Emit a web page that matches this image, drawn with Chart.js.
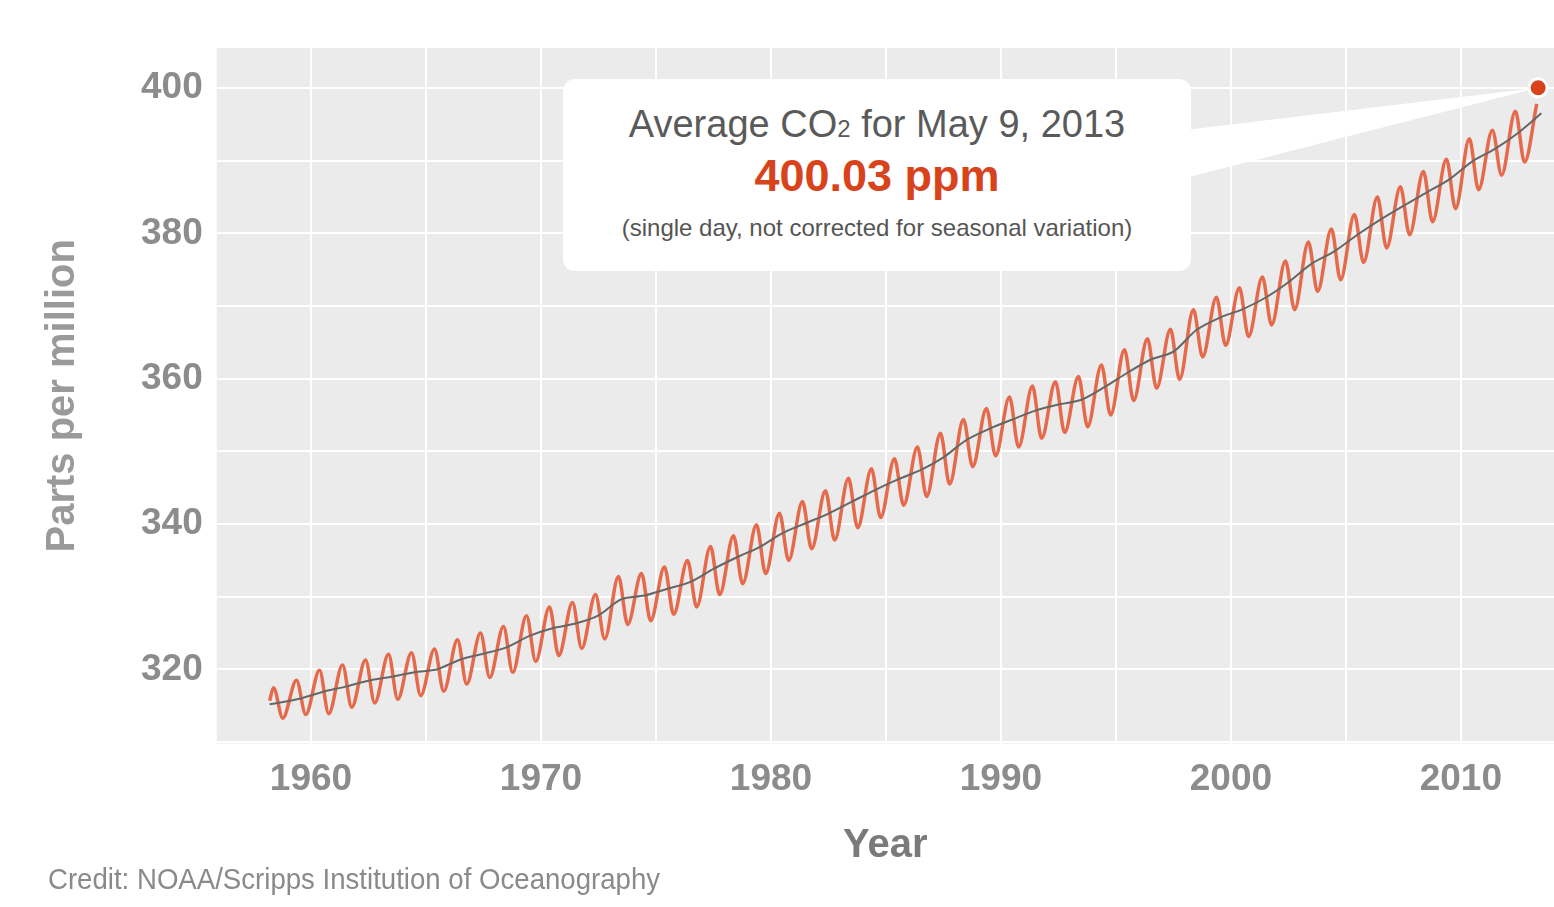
<!DOCTYPE html>
<html>
<head>
<meta charset="utf-8">
<script src="https://cdn.jsdelivr.net/npm/chart.js@4/dist/chart.umd.min.js"></script>
<style>
  body { margin: 0; background: #fff; overflow: hidden; }
  #wrap { position: relative; width: 1554px; height: 907px; overflow: hidden; }
  #c { position: absolute; left: 0; top: 0; }
  #box {
    position: absolute; left: 563px; top: 79px; width: 628px; height: 192px;
    background: #fff; border-radius: 12px; text-align: center;
    font-family: "Liberation Sans", Arial, sans-serif;
  }
  #box .t1 { color: #5a5a5a; font-size: 38px; margin-top: 24px; }
  #box .t1 sub { font-size: 24px; vertical-align: 0; }
  #box .t2 { color: #d8431c; font-size: 45px; font-weight: bold; margin-top: 4px; }
  #box .t3 { color: #555; font-size: 24px; margin-top: 12px; }
  #credit {
    position: absolute; left: 48px; top: 862px; color: #8a8a8a; white-space: nowrap;
    font-family: "Liberation Sans", sans-serif; font-size: 30px;
    transform: scaleX(0.92); transform-origin: left top;
  }
</style>
</head>
<body>
<div id="wrap">
  <canvas id="c" width="1566" height="907"></canvas>
  <div id="box">
    <div class="t1">Average CO<sub>2</sub> for May 9, 2013</div>
    <div class="t2">400.03 ppm</div>
    <div class="t3">(single day, not corrected for seasonal variation)</div>
  </div>
  <div id="credit">Credit: NOAA/Scripps Institution of Oceanography</div>
</div>
<script>
// years of the record
const years = [1958,1959,1960,1961,1962,1963,1964,1965,1966,1967,1968,1969,1970,1971,1972,1973,1974,1975,1976,1977,1978,1979,1980,1981,1982,1983,1984,1985,1986,1987,1988,1989,1990,1991,1992,1993,1994,1995,1996,1997,1998,1999,2000,2001,2002,2003,2004,2005,2006,2007,2008,2009,2010,2011,2012,2013];
// annual means (trend line)
const annualMean = [315.2,315.97,316.91,317.64,318.45,318.99,319.62,320.04,321.38,322.16,323.04,324.62,325.68,326.32,327.45,329.68,330.18,331.11,332.04,333.83,335.40,336.84,338.75,340.11,341.45,343.05,344.65,346.12,347.42,349.19,351.57,353.12,354.39,355.61,356.45,357.10,358.83,360.82,362.61,363.73,366.70,368.38,369.55,371.14,373.28,375.80,377.52,379.80,381.90,383.79,385.60,387.43,389.90,391.65,393.85,396.52];
// spring maximum each year
const springMax = [317.5,318.5,319.9,320.6,321.3,322.1,322.3,322.8,324.1,325.0,325.9,327.4,328.6,329.2,330.3,332.8,333.2,334.1,335.0,336.9,338.4,339.9,341.5,343.1,344.6,346.3,347.6,349.0,350.6,352.5,354.4,355.9,357.5,359.0,359.6,360.3,361.9,364.0,365.5,366.8,369.5,371.2,372.5,374.0,376.2,378.8,380.6,382.6,385.0,386.4,388.5,390.2,393.0,394.2,396.8,397.8];
// autumn minimum each year (last year not yet reached)
const autumnMin = [313.3,313.8,313.9,314.8,315.4,315.9,316.4,317.0,318.0,318.9,319.6,321.1,321.9,322.9,324.2,326.2,326.7,327.6,328.6,330.3,331.8,333.2,335.0,336.6,337.8,339.5,340.9,342.6,343.8,345.5,347.9,349.4,350.6,351.8,352.6,353.4,355.0,357.0,358.7,359.9,363.0,364.6,365.8,367.4,369.5,372.0,373.6,376.0,378.0,379.8,381.6,383.4,386.0,388.0,389.8];
const xTicks = [1960,1970,1980,1990,2000,2010];
const yTicks = [320,340,360,380,400];
const latest = {x: 2013.36, y: 400.03};

const seasonal = [{x: 1958.2, y: 315.7}];
years.forEach((yr, i) => {
  seasonal.push({x: yr + (i === years.length - 1 ? 0.3 : 0.37), y: springMax[i]});
  if (autumnMin[i] !== undefined) seasonal.push({x: yr + 0.77, y: autumnMin[i]});
});
const trend = years.map((yr, i) => ({x: yr + 0.5, y: annualMean[i]}));
trend[0].x = 1958.2;

const pointer = {
  id: 'pointer',
  beforeDatasetDraw(chart, args) {
    if (args.index !== 0) return;
    const ctx = chart.ctx;
    const x = chart.scales.x.getPixelForValue(latest.x);
    const y = chart.scales.y.getPixelForValue(latest.y);
    ctx.save();
    ctx.fillStyle = '#fff';
    ctx.beginPath();
    ctx.moveTo(1185, 130);
    ctx.lineTo(x, y);
    ctx.lineTo(1185, 178);
    ctx.closePath();
    ctx.fill();
    ctx.restore();
  }
};

const bg = {
  id: 'bg',
  beforeDraw(chart) {
    const a = chart.chartArea;
    chart.ctx.fillStyle = '#ebebeb';
    chart.ctx.fillRect(a.left, a.top, a.right - a.left, a.bottom - a.top);
  }
};

const tickFont = {family: '"Liberation Sans", sans-serif', size: 37, weight: 'bold'};

new Chart(document.getElementById('c'), {
  type: 'scatter',
  data: {
    datasets: [
      {data: [latest], pointRadius: 9, pointBackgroundColor: '#d8431c', pointBorderColor: '#fff', pointBorderWidth: 3, showLine: false},
      {data: trend, showLine: true, borderColor: '#666', borderWidth: 2, pointRadius: 0, tension: 0.3},
      {data: seasonal, showLine: true, borderColor: '#e56a4c', borderWidth: 3.5, pointRadius: 0, cubicInterpolationMode: 'monotone'}
    ]
  },
  options: {
    responsive: false, animation: false,
    layout: {padding: {top: 48, right: 0, left: 35, bottom: 33}},
    plugins: {legend: {display: false}, tooltip: {enabled: false}},
    scales: {
      x: {
        type: 'linear', min: 1955.9, max: 2014.05,
        afterBuildTicks(s) { const t = []; for (let v = 1960; v <= 2010; v += 5) t.push({value: v}); s.ticks = t; },
        grid: {color: '#fff', lineWidth: 2, drawTicks: false},
        border: {display: false},
        ticks: {font: tickFont, color: '#8c8c8c', padding: 14, callback: v => xTicks.includes(v) ? String(v) : ''},
        title: {display: true, text: 'Year', color: '#7a7a7a', font: {family: tickFont.family, size: 40, weight: 'bold'}, padding: {top: 6}}
      },
      y: {
        min: 309.8, max: 405.5,
        afterBuildTicks(s) { const t = []; for (let v = 310; v <= 400; v += 10) t.push({value: v}); s.ticks = t; },
        grid: {color: '#fff', lineWidth: 2, drawTicks: false},
        border: {display: false},
        ticks: {font: tickFont, color: '#8c8c8c', padding: 14, callback: v => yTicks.includes(v) ? String(v) : ''},
        title: {display: true, text: 'Parts per million', color: '#9a9a9a', font: {family: tickFont.family, size: 40, weight: 'bold'}, padding: {bottom: 40}}
      }
    }
  },
  plugins: [bg, pointer]
});
</script>
</body>
</html>
